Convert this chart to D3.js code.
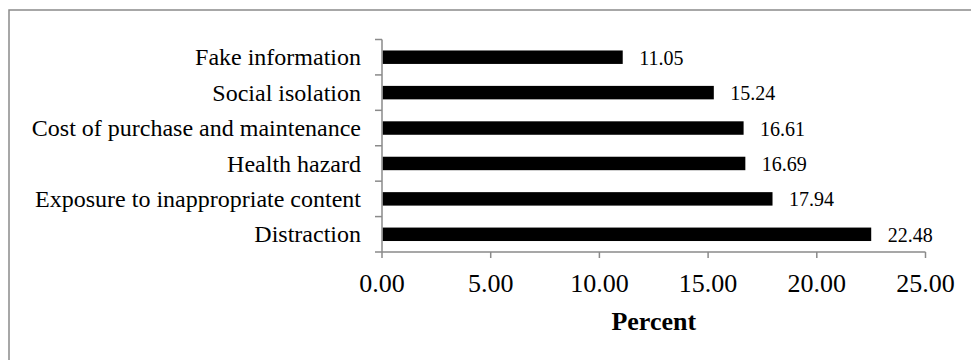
<!DOCTYPE html>
<html>
<head>
<meta charset="utf-8">
<script src="https://cdn.jsdelivr.net/npm/d3@7"></script>
<style>
  body { margin: 0; background: #fff; }
  text { font-family: "Liberation Serif", "Times New Roman", serif; fill: #000; }
</style>
</head>
<body>
<svg id="chart"></svg>
<script>
// Data, top to bottom as drawn
const categories = [
  "Fake information",
  "Social isolation",
  "Cost of purchase and maintenance",
  "Health hazard",
  "Exposure to inappropriate content",
  "Distraction"
];
const values = [11.05, 15.24, 16.61, 16.69, 17.94, 22.48];
const xTicks = [0, 5, 10, 15, 20, 25];
const xTitle = "Percent";

const width = 971, height = 360;
const margin = { top: 39.5, right: 45.5, bottom: 108, left: 382 };

const svg = d3.select("#chart")
    .attr("width", width)
    .attr("height", height);

// Outer frame (runs off the right and bottom edges)
svg.append("rect")
    .attr("x", 9)
    .attr("y", 10)
    .attr("width", 1000)
    .attr("height", 400)
    .attr("fill", "none")
    .attr("stroke", "#8a8a8a")
    .attr("stroke-width", 1.5);

const chart = svg.append("g")
    .attr("transform", `translate(${margin.left},${margin.top})`);

const innerW = width - margin.left - margin.right;
const innerH = height - margin.top - margin.bottom;

const x = d3.scaleLinear()
    .domain([0, 25])
    .range([0, innerW]);

const y = d3.scaleBand()
    .domain(categories)
    .range([0, innerH])
    .paddingInner(0.62)
    .paddingOuter(0.31);

const axisColour = "#8a8a8a";

// Bars
chart.selectAll("rect.bar")
    .data(categories)
  .join("rect")
    .attr("class", "bar")
    .attr("x", 0.5)
    .attr("y", d => y(d))
    .attr("width", (d, i) => x(values[i]))
    .attr("height", y.bandwidth())
    .attr("fill", "#000");

// Value labels
chart.selectAll("text.value")
    .data(categories)
  .join("text")
    .attr("class", "value")
    .attr("x", (d, i) => x(values[i]) + 17)
    .attr("y", d => y(d) + y.bandwidth() / 2)
    .attr("dy", "0.38em")
    .attr("font-size", 20)
    .text((d, i) => values[i].toFixed(2));

// Y axis line and tick marks between categories
const yStep = innerH / categories.length;
chart.append("line")
    .attr("x1", 0).attr("x2", 0)
    .attr("y1", 0).attr("y2", innerH)
    .attr("stroke", axisColour)
    .attr("stroke-width", 1.5);

chart.selectAll("line.ytick")
    .data(d3.range(categories.length + 1))
  .join("line")
    .attr("class", "ytick")
    .attr("x1", -7).attr("x2", 0)
    .attr("y1", d => d * yStep)
    .attr("y2", d => d * yStep)
    .attr("stroke", axisColour)
    .attr("stroke-width", 1.5);

// Category labels
chart.selectAll("text.cat")
    .data(categories)
  .join("text")
    .attr("class", "cat")
    .attr("x", -21)
    .attr("y", d => y(d) + y.bandwidth() / 2)
    .attr("dy", "0.34em")
    .attr("text-anchor", "end")
    .attr("font-size", 24)
    .text(d => d);

// X axis
chart.append("line")
    .attr("x1", 0).attr("x2", innerW)
    .attr("y1", innerH).attr("y2", innerH)
    .attr("stroke", axisColour)
    .attr("stroke-width", 1.5);

chart.selectAll("line.xtick")
    .data(xTicks)
  .join("line")
    .attr("class", "xtick")
    .attr("x1", d => x(d)).attr("x2", d => x(d))
    .attr("y1", innerH).attr("y2", innerH + 6)
    .attr("stroke", axisColour)
    .attr("stroke-width", 1.5);

chart.selectAll("text.xlabel")
    .data(xTicks)
  .join("text")
    .attr("class", "xlabel")
    .attr("x", d => x(d))
    .attr("y", innerH + 39.5)
    .attr("text-anchor", "middle")
    .attr("font-size", 26)
    .text(d => d.toFixed(2));

// Axis title
chart.append("text")
    .attr("x", innerW / 2)
    .attr("y", innerH + 78)
    .attr("text-anchor", "middle")
    .attr("font-size", 26)
    .attr("font-weight", "bold")
    .text(xTitle);
</script>
</body>
</html>
